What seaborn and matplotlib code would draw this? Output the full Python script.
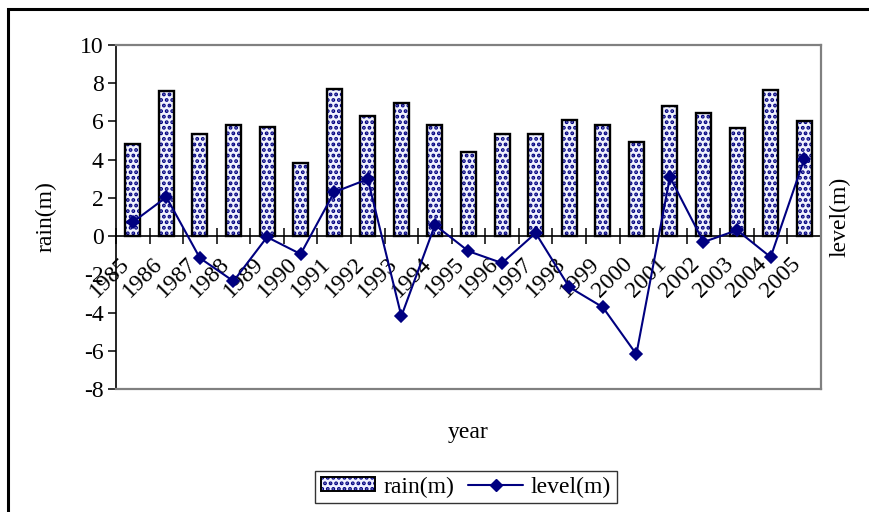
import matplotlib
matplotlib.use("Agg")
import matplotlib.pyplot as plt
import matplotlib.patches as mpatches
from matplotlib.legend_handler import HandlerTuple
from matplotlib.lines import Line2D
from matplotlib.ticker import FixedLocator, NullFormatter
import seaborn as sns
import pandas as pd

# yearly rainfall and water-level change
years = ["1985", "1986", "1987", "1988", "1989", "1990", "1991", "1992", "1993",
         "1994", "1995", "1996", "1997", "1998", "1999", "2000", "2001", "2002",
         "2003", "2004", "2005"]
rain = [4.8, 7.6, 5.35, 5.8, 5.7, 3.85, 7.7, 6.3, 6.95, 5.8, 4.4, 5.35, 5.35,
        6.05, 5.8, 4.9, 6.8, 6.45, 5.65, 7.65, 6.0]
level = [0.73, 2.04, -1.15, -2.36, -0.05, -0.94, 2.3, 2.98, -4.19, 0.58, -0.79,
         -1.41, 0.16, -2.67, -3.72, -6.18, 3.09, -0.31, 0.31, -1.1, 4.03]
yticks = [-8, -6, -4, -2, 0, 2, 4, 6, 8, 10]

df = pd.DataFrame({"year": years, "rain": rain, "level": level})

sns.set_theme(style="white")
plt.rcParams["font.family"] = ["Liberation Serif", "DejaVu Serif"]
plt.rcParams["axes.unicode_minus"] = False
plt.rcParams["hatch.linewidth"] = 1.9
for key in ("text.color", "axes.labelcolor", "xtick.color", "ytick.color"):
    plt.rcParams[key] = "black"

NAVY = "#000080"
GRAY = "#808080"
BAR_FACE = "#eef0ff"
FS = 17

fig = plt.figure(figsize=(8.7, 5.12), dpi=100)
ax = fig.add_axes([116 / 870, 1 - 389 / 512, 705 / 870, 344 / 512])

# dotted bar fill, then a black outline on top
sns.barplot(data=df, x="year", y="rain", ax=ax, width=0.45, color=BAR_FACE,
            edgecolor=NAVY, linewidth=0, hatch="...", errorbar=None, zorder=2)
sns.barplot(data=df, x="year", y="rain", ax=ax, width=0.45, fill=False,
            color="black", linewidth=1.7, errorbar=None, zorder=3)

ax2 = ax.twinx()
sns.pointplot(data=df, x="year", y="level", ax=ax2, color=NAVY, markers="D",
              linestyles="-", errorbar=None, markersize=6, linewidth=1.5)

for a in (ax, ax2):
    a.set_ylim(-8, 10)
    a.set_xlim(-0.5, len(years) - 0.5)

# left axis
ax.set_yticks(yticks)
ax.set_yticklabels([str(v) for v in yticks])
ax.tick_params(axis="y", direction="out", length=6, width=1.1, color="black",
               labelsize=FS, pad=3, left=True)
ax.set_ylabel("rain(m)", fontsize=FS)
ax.yaxis.set_label_coords(-0.085, 0.5)

# category axis crossing at zero
ax.spines["bottom"].set_position(("data", 0))
for s in ("top", "right"):
    ax.spines[s].set_visible(False)
for s in ("left", "bottom"):
    ax.spines[s].set_color("black")
    ax.spines[s].set_linewidth(1.2)

n = len(years)
ax.xaxis.set_major_locator(FixedLocator([i - 0.5 for i in range(n + 1)]))
ax.xaxis.set_major_formatter(NullFormatter())
# rotated year labels sit just left of each category centre
ax.xaxis.set_minor_locator(FixedLocator([i - 0.2 for i in range(n)]))
ax.set_xticklabels(years, minor=True)
ax.tick_params(axis="x", which="major", direction="inout", length=12, width=1.1,
               color="black", bottom=True)
ax.tick_params(axis="x", which="minor", length=0, labelsize=FS, pad=18, bottom=True)
for lab in ax.get_xticklabels(minor=True):
    lab.set_rotation(45)
    lab.set_ha("right")
    lab.set_va("center")
    lab.set_rotation_mode("anchor")
ax.set_xlabel("year", fontsize=FS)
ax.xaxis.set_label_coords(0.5, -0.095)

# right axis: frame and label only
ax2.set_yticks([])
ax2.set_ylabel("level(m)", fontsize=FS)
ax2.yaxis.set_label_coords(1.012, 0.5)
ax2.spines["left"].set_visible(False)
for s in ("top", "right", "bottom"):
    ax2.spines[s].set_color(GRAY)
    ax2.spines[s].set_linewidth(1.6)

# legend
bar_fill = mpatches.Patch(facecolor=BAR_FACE, edgecolor=NAVY, linewidth=0, hatch="...")
bar_edge = mpatches.Patch(facecolor="none", edgecolor="black", linewidth=1.4)
line_h = Line2D([], [], color=NAVY, marker="D", markersize=6, linewidth=1.5)
leg = fig.legend([(bar_fill, bar_edge), line_h], ["rain(m)", "level(m)"],
                 handler_map={tuple: HandlerTuple(ndivide=1)},
                 loc="center", bbox_to_anchor=(466 / 870, 1 - 487 / 512), ncol=2,
                 fontsize=FS, frameon=True, fancybox=False, edgecolor="black",
                 handlelength=2.3, handleheight=0.55, columnspacing=0.6,
                 handletextpad=0.35, borderpad=0.25, borderaxespad=0)
leg.get_frame().set_linewidth(1.0)

# outer chart frame
fig.patches.append(mpatches.Rectangle((8.5 / 870, -0.2), 1.3, 1.2 - 8.5 / 512,
                                      transform=fig.transFigure, fill=False,
                                      edgecolor="black", linewidth=2.2,
                                      clip_on=False))

fig.savefig("out.png", dpi=100)
